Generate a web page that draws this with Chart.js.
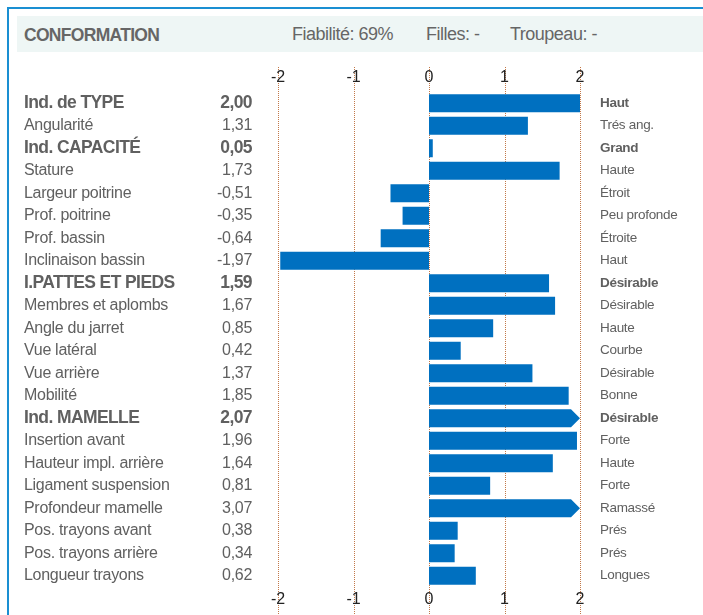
<!DOCTYPE html>
<html>
<head>
<meta charset="utf-8">
<script src="https://cdn.jsdelivr.net/npm/chart.js@4"></script>
<style>
  body { margin: 0; background: #fff; font-family: "Liberation Sans", Arial, sans-serif; }
  #wrap { position: relative; width: 703px; height: 615px; overflow: hidden; }
  #frame { position: absolute; left: 7px; top: 7px; width: 720px; height: 640px;
           border-left: 2px solid #1a8fd2; border-top: 2px solid #1a8fd2; }
  #head { position: absolute; left: 17px; top: 16px; width: 700px; height: 36px; background: #eef6f5; }
  #head span { position: absolute; top: 8px; color: #666; font-size: 18px; letter-spacing: -0.5px; white-space: nowrap; }
  #head .title { left: 7px; font-weight: bold; font-size: 17.5px; letter-spacing: -0.7px; top: 9px; }
  #chart { position: absolute; left: 0; top: 0; }
</style>
</head>
<body>
<div id="wrap">
  <div id="frame"></div>
  <div id="head">
    <span class="title">CONFORMATION</span>
    <span style="left:275px">Fiabilité: 69%</span>
    <span style="left:409px">Filles: -</span>
    <span style="left:493px">Troupeau: -</span>
  </div>
  <canvas id="chart" width="703" height="615"></canvas>
</div>
<script>
const names = ['Ind. de TYPE', 'Angularité', 'Ind. CAPACITÉ', 'Stature', 'Largeur poitrine',
  'Prof. poitrine', 'Prof. bassin', 'Inclinaison bassin', 'I.PATTES ET PIEDS', 'Membres et aplombs',
  'Angle du jarret', 'Vue latéral', 'Vue arrière', 'Mobilité', 'Ind. MAMELLE', 'Insertion avant',
  'Hauteur impl. arrière', 'Ligament suspension', 'Profondeur mamelle', 'Pos. trayons avant',
  'Pos. trayons arrière', 'Longueur trayons'];
const values = [2.00, 1.31, 0.05, 1.73, -0.51, -0.35, -0.64, -1.97, 1.59, 1.67, 0.85, 0.42,
  1.37, 1.85, 2.07, 1.96, 1.64, 0.81, 3.07, 0.38, 0.34, 0.62];
const rightLabels = ['Haut', 'Trés ang.', 'Grand', 'Haute', 'Étroit', 'Peu profonde', 'Étroite',
  'Haut', 'Désirable', 'Désirable', 'Haute', 'Courbe', 'Désirable', 'Bonne', 'Désirable', 'Forte',
  'Haute', 'Forte', 'Ramassé', 'Prés', 'Prés', 'Longues'];
const summaryRows = [0, 2, 8, 14];
const tickValues = [-2, -1, 0, 1, 2];
const axisMax = 2;

const BLUE = '#0070c0';
const TEXT = '#606060';
const FONT = '"Liberation Sans", Arial, sans-serif';

function fmt(v) { return v.toFixed(2).replace('.', ','); }

// dotted grid lines running the full height, plus tick labels top and bottom
const gridPlugin = {
  id: 'grid',
  beforeDatasetsDraw(chart) {
    const ctx = chart.ctx, xs = chart.scales.x, area = chart.chartArea;
    ctx.save();
    ctx.strokeStyle = '#c27848';
    ctx.lineWidth = 1;
    ctx.setLineDash([1, 1]);
    tickValues.forEach(t => {
      const x = Math.round(xs.getPixelForValue(t)) + 0.5;
      ctx.beginPath();
      ctx.moveTo(x, area.top - 25);
      ctx.lineTo(x, chart.height);
      ctx.stroke();
    });
    ctx.restore();
  },
  afterDatasetsDraw(chart) {
    const ctx = chart.ctx, xs = chart.scales.x, area = chart.chartArea;
    ctx.save();
    ctx.font = '16px ' + FONT;
    ctx.fillStyle = '#222';
    ctx.textAlign = 'center';
    ctx.textBaseline = 'middle';
    tickValues.forEach(t => {
      const x = xs.getPixelForValue(t);
      ctx.fillText(String(t), x, area.top - 14);
      ctx.fillText(String(t), x, area.bottom + 13);
    });
    ctx.restore();
  }
};

// bars past the axis end become arrows
const arrowPlugin = {
  id: 'arrows',
  afterDatasetsDraw(chart) {
    const ctx = chart.ctx, xs = chart.scales.x;
    const meta = chart.getDatasetMeta(0);
    const xEnd = xs.getPixelForValue(axisMax);
    ctx.save();
    ctx.fillStyle = BLUE;
    meta.data.forEach((bar, i) => {
      if (values[i] <= axisMax) return;
      const p = bar.getProps(['x', 'y', 'base', 'height'], true);
      const tip = Math.min(p.x, xEnd);
      const top = p.y - p.height / 2, bot = p.y + p.height / 2;
      const sh = tip - p.height / 2;
      ctx.beginPath();
      ctx.moveTo(p.base, top);
      ctx.lineTo(sh, top);
      ctx.lineTo(tip, p.y);
      ctx.lineTo(sh, bot);
      ctx.lineTo(p.base, bot);
      ctx.closePath();
      ctx.fill();
    });
    ctx.restore();
  }
};

// row text: name, value, qualifier
const rowTextPlugin = {
  id: 'rowText',
  afterDraw(chart) {
    const ctx = chart.ctx, ys = chart.scales.y, area = chart.chartArea;
    ctx.save();
    ctx.fillStyle = TEXT;
    ctx.textBaseline = 'middle';
    names.forEach((n, i) => {
      const y = ys.getPixelForValue(i);
      const bold = summaryRows.includes(i);
      ctx.font = bold ? 'bold 17.5px ' + FONT : '16px ' + FONT;
      ctx.letterSpacing = bold ? '-0.6px' : '-0.3px';
      ctx.textAlign = 'left';
      ctx.fillText(n, 24, y);
      ctx.textAlign = 'right';
      ctx.fillText(fmt(values[i]), 252, y);
      ctx.font = bold ? 'bold 13.5px ' + FONT : '13.5px ' + FONT;
      ctx.letterSpacing = '-0.3px';
      ctx.textAlign = 'left';
      ctx.fillText(rightLabels[i], area.right + 20, y);
    });
    ctx.letterSpacing = '0px';
    ctx.restore();
  }
};

new Chart(document.getElementById('chart'), {
  type: 'bar',
  data: {
    labels: names,
    datasets: [{
      data: values,
      backgroundColor: ctx => values[ctx.dataIndex] > axisMax ? 'rgba(0,0,0,0)' : BLUE,
      borderWidth: 0,
      barPercentage: 0.8,
      categoryPercentage: 1
    }]
  },
  options: {
    indexAxis: 'y',
    responsive: false,
    animation: false,
    layout: { padding: { left: 278, right: 123, top: 92, bottom: 28 } },
    plugins: { legend: { display: false }, tooltip: { enabled: false } },
    scales: {
      x: { type: 'linear', min: -2, max: 2, display: false },
      y: { display: false }
    }
  },
  plugins: [gridPlugin, arrowPlugin, rowTextPlugin]
});
</script>
</body>
</html>
